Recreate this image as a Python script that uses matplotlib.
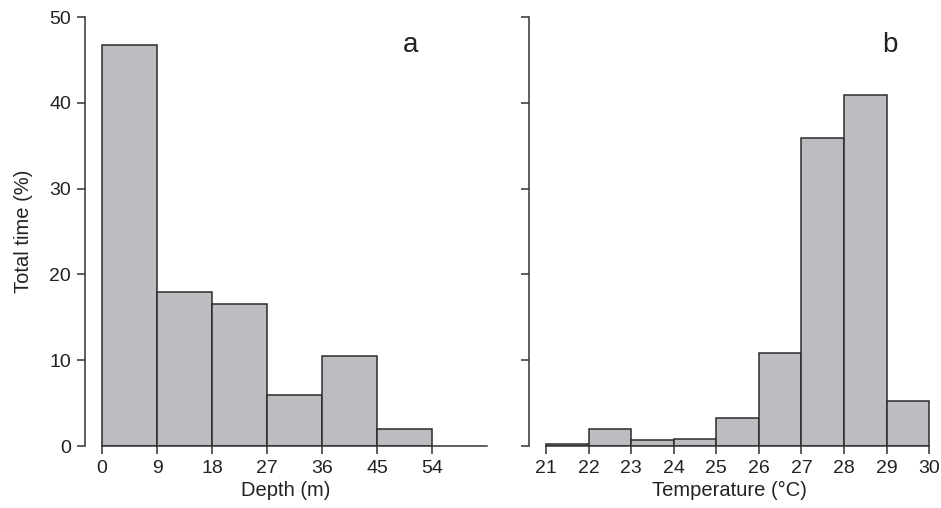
import numpy as np
import matplotlib.pyplot as plt

# depth histogram (panel a)
depth_edges = [0, 9, 18, 27, 36, 45, 54]
depth_pct = [46.7, 18.0, 16.6, 6.0, 10.5, 2.0]
depth_ticks = [0, 9, 18, 27, 36, 45, 54]

# temperature histogram (panel b)
temp_edges = [21, 22, 23, 24, 25, 26, 27, 28, 29, 30]
temp_pct = [0.2, 2.0, 0.65, 0.85, 3.3, 10.9, 35.9, 40.9, 5.3]
temp_ticks = [21, 22, 23, 24, 25, 26, 27, 28, 29, 30]

y_ticks = [0, 10, 20, 30, 40, 50]

plt.rcParams['font.family'] = ['Liberation Sans', 'DejaVu Sans']

fill = '#bcbdc1'
edge = '#2b2b2b'
axcol = '#333333'

fig = plt.figure(figsize=(9.41, 5.08), dpi=100)
axA = fig.add_axes([0.0903, 0.122, 0.4272, 0.8445])
axB = fig.add_axes([0.5622, 0.122, 0.4265, 0.8445])

def draw(ax, edges, vals):
    e = np.array(edges, dtype=float)
    ax.bar(e[:-1], vals, width=np.diff(e), align='edge', color=fill,
           edgecolor=edge, linewidth=1.1, zorder=2)

draw(axA, depth_edges, depth_pct)
draw(axB, temp_edges, temp_pct)

for ax in (axA, axB):
    ax.set_ylim(0, 50)
    ax.set_yticks(y_ticks)
    for s in ('top', 'right'):
        ax.spines[s].set_visible(False)
    for s in ('left', 'bottom'):
        ax.spines[s].set_color(axcol)
        ax.spines[s].set_linewidth(1.1)
    ax.spines['left'].set_bounds(0, 50)
    ax.tick_params(direction='out', length=5.5, width=1.1, color=axcol,
                   labelsize=14, labelcolor='#222222', pad=4.5)

axA.set_xlim(-2.8, 63)
axA.set_xticks(depth_ticks)
axA.spines['bottom'].set_bounds(0, 63)
axA.set_xlabel('Depth (m)', fontsize=14.5, color='#222222', labelpad=3)
axA.set_ylabel('Total time (%)', fontsize=14.5, color='#222222', labelpad=12)
axA.text(0.81, 0.935, 'a', transform=axA.transAxes, fontsize=20,
         color='#222222', ha='center', va='center')

axB.set_xlim(20.6, 30.03)
axB.set_xticks(temp_ticks)
axB.spines['bottom'].set_bounds(21, 30)
axB.set_yticklabels([])
axB.set_xlabel('Temperature (°C)', fontsize=14.5, color='#222222', labelpad=3)
axB.text(0.9, 0.935, 'b', transform=axB.transAxes, fontsize=20,
         color='#222222', ha='center', va='center')

fig.savefig('out.png', dpi=100)
